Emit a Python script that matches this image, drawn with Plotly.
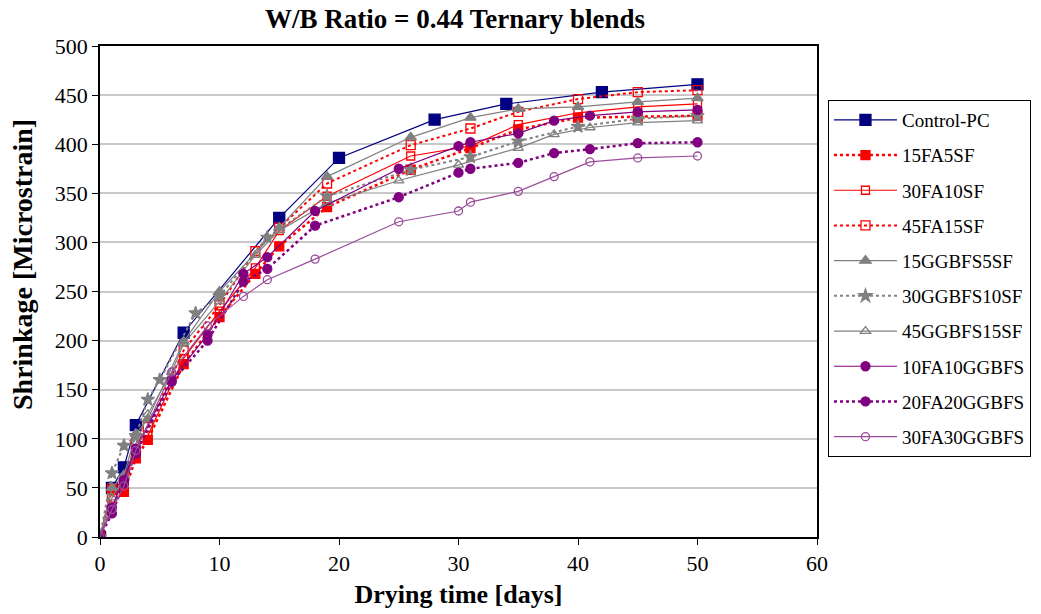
import plotly.graph_objects as go

# ---- data ----
series_names = ["Control-PC", "15FA5SF", "30FA10SF", "45FA15SF", "15GGBFS5SF",
                "30GGBFS10SF", "45GGBFS15SF", "10FA10GGBFS", "20FA20GGBFS", "30FA30GGBFS"]

control_x = [0, 1, 2, 3, 7, 15, 20, 28, 34, 42, 50]
control_y = [0, 50, 71, 114, 208, 325, 386, 425, 441, 453, 461]

fa15sf5_x = [0, 1, 2, 3, 4, 7, 10, 13, 15, 19, 26, 31, 35, 40, 45, 50]
fa15sf5_y = [0, 48, 46, 80, 99, 176, 224, 268, 296, 336, 374, 396, 415, 427, 428, 429]

fa30sf10_x = [0, 1, 2, 3, 4, 7, 10, 13, 15, 19, 26, 31, 35, 40, 45, 50]
fa30sf10_y = [0, 50, 56, 90, 103, 182, 230, 274, 312, 347, 388, 398, 420, 432, 438, 441]

fa45sf15_x = [0, 1, 2, 3, 4, 7, 10, 13, 15, 19, 26, 31, 35, 40, 45, 50]
fa45sf15_y = [0, 40, 57, 95, 112, 190, 236, 291, 315, 360, 399, 416, 433, 446, 453, 455]

gg15sf5_x = [0, 1, 2, 3, 4, 7, 10, 15, 19, 26, 31, 35, 40, 45, 50]
gg15sf5_y = [0, 50, 63, 105, 120, 199, 250, 315, 367, 407, 427, 436, 438, 443, 447]

gg30sf10_x = [0, 1, 2, 3, 4, 5, 8, 10, 14, 19, 26, 31, 35, 40, 45, 50]
gg30sf10_y = [0, 65, 93, 103, 140, 160, 228, 245, 305, 347, 374, 387, 403, 418, 426, 429]

gg45sf15_x = [0, 1, 2, 3, 4, 6, 7, 10, 13, 15, 19, 25, 30, 35, 38, 41, 45, 50]
gg45sf15_y = [0, 40, 60, 95, 125, 168, 197, 240, 287, 312, 340, 363, 379, 396, 410, 417, 422, 424]

fa10gg10_x = [0, 1, 2, 3, 6, 9, 12, 14, 18, 25, 30, 31, 35, 38, 41, 45, 50]
fa10gg10_y = [0, 30, 58, 90, 160, 206, 268, 285, 332, 375, 398, 402, 411, 424, 429, 433, 435]

fa20gg20_x = [0, 1, 2, 3, 6, 9, 12, 14, 18, 25, 30, 31, 35, 38, 41, 45, 50]
fa20gg20_y = [0, 24, 55, 85, 158, 200, 260, 273, 317, 346, 371, 375, 381, 391, 395, 401, 402]

fa30gg30_x = [0, 1, 2, 3, 6, 9, 12, 14, 18, 25, 30, 31, 35, 38, 41, 45, 50]
fa30gg30_y = [0, 28, 52, 88, 168, 215, 245, 262, 283, 321, 332, 341, 352, 367, 382, 386, 388]

x_ticks = [0, 10, 20, 30, 40, 50, 60]
y_ticks = [0, 50, 100, 150, 200, 250, 300, 350, 400, 450, 500]

xs = [control_x, fa15sf5_x, fa30sf10_x, fa45sf15_x, gg15sf5_x,
      gg30sf10_x, gg45sf15_x, fa10gg10_x, fa20gg20_x, fa30gg30_x]
ys = [control_y, fa15sf5_y, fa30sf10_y, fa45sf15_y, gg15sf5_y,
      gg30sf10_y, gg45sf15_y, fa10gg10_y, fa20gg20_y, fa30gg30_y]

# ---- styles ----
NAVY, RED, GRAY, PURPLE = "#000080", "#ff0000", "#808080", "#800080"
styles = [
    dict(color=NAVY, dash="solid", width=1.2, symbol="square", size=11),
    dict(color=RED, dash="dot", width=2.5, symbol="square", size=9),
    dict(color=RED, dash="solid", width=1.2, symbol="square-open", size=8),
    dict(color=RED, dash="dot", width=2, symbol="square-open", size=9),
    dict(color=GRAY, dash="solid", width=1.2, symbol="triangle-up", size=10),
    dict(color=GRAY, dash="dot", width=2, symbol="star", size=10),
    dict(color=GRAY, dash="solid", width=1.2, symbol="triangle-up-open", size=9),
    dict(color=PURPLE, dash="solid", width=1.2, symbol="circle", size=9),
    dict(color=PURPLE, dash="dot", width=2.5, symbol="circle", size=9),
    dict(color="#9a4c9a", dash="solid", width=1.2, symbol="circle-open", size=8),
]

fig = go.Figure()
for i, (name, x, y, st) in enumerate(zip(series_names, xs, ys, styles)):
    fig.add_trace(go.Scatter(
        x=x, y=y, name=name, mode="lines+markers", legendgroup=name,
        line=dict(color=st["color"], dash=st["dash"], width=st["width"]),
        marker=dict(symbol=st["symbol"], size=st["size"], color=st["color"],
                    line=dict(color=st["color"], width=1.3)),
    ))

FONT = "Liberation Serif"
W, H = 1041, 614
L, T, PW, PH = 100, 46, 717, 491
fig.update_layout(
    width=W, height=H,
    margin=dict(l=L, r=W - L - PW, t=T, b=H - T - PH, autoexpand=False),
    paper_bgcolor="white", plot_bgcolor="white",
    font=dict(family=FONT, color="black", size=20),
    showlegend=True,
    legend=dict(x=1.0153, xanchor="left", y=0.89, yanchor="top",
                bordercolor="black", borderwidth=1, bgcolor="white",
                font=dict(size=19, family=FONT), tracegroupgap=7.5,
                itemwidth=63),
    annotations=[
        dict(text="<b>W/B Ratio = 0.44 Ternary blends</b>",
             xref="paper", yref="paper",
             x=(455 - L) / PW, y=(T + PH - 19) / PH,
             xanchor="center", yanchor="middle", showarrow=False,
             font=dict(size=27, family=FONT)),
        dict(text="<b>Shrinkage [Microstrain]</b>", textangle=-90,
             xref="paper", yref="paper",
             x=(22 - L) / PW, y=(T + PH - 265) / PH,
             xanchor="center", yanchor="middle", showarrow=False,
             font=dict(size=28, family=FONT)),
    ],
)
fig.update_xaxes(
    range=[0, 60], tickvals=x_ticks, ticks="outside", ticklen=6, tickcolor="black",
    showline=True, linecolor="black", linewidth=1.5, mirror=True, automargin=False,
    showgrid=False, zeroline=False, tickfont=dict(size=22, family=FONT),
    title=dict(text="<b>Drying time [days]</b>", font=dict(size=26, family=FONT), standoff=10),
)
fig.update_yaxes(
    range=[0, 500], tickvals=y_ticks, ticks="outside", ticklen=6, tickcolor="black",
    showline=True, linecolor="black", linewidth=1.5, mirror=True, automargin=False,
    showgrid=True, gridcolor="#c8c8c8", gridwidth=1.5, zeroline=False,
    tickfont=dict(size=22, family=FONT),
)

fig.write_html("out.html", config={"displayModeBar": False},
               post_script="document.body.style.margin='0';")
